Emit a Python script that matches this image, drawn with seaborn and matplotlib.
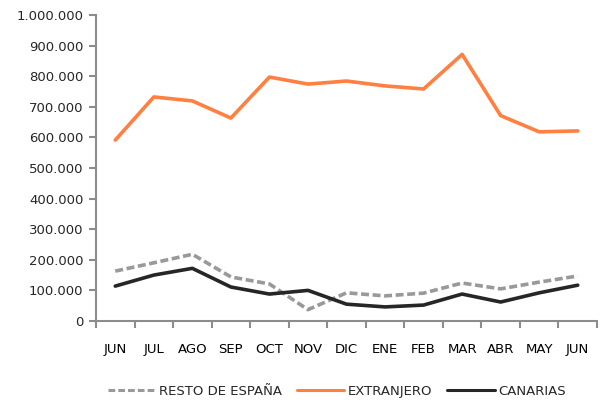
import pandas as pd
import seaborn as sns
import matplotlib.pyplot as plt
from matplotlib.ticker import FuncFormatter, FixedLocator

# Datos
meses = ['JUN', 'JUL', 'AGO', 'SEP', 'OCT', 'NOV', 'DIC', 'ENE', 'FEB', 'MAR', 'ABR', 'MAY', 'JUN ']
resto_espana = [163000, 190000, 218000, 144000, 121000, 37000, 92000, 82000, 91000, 124000, 105000, 127000, 147000]
extranjero = [591000, 732000, 719000, 663000, 797000, 774000, 784000, 768000, 758000, 871000, 671000, 618000, 621000]
canarias = [114000, 150000, 172000, 111000, 88000, 100000, 55000, 46000, 52000, 88000, 62000, 92000, 117000]

series = ['RESTO DE ESPAÑA', 'EXTRANJERO', 'CANARIAS']
df = pd.DataFrame({'Mes': meses * 3,
                   'Valor': resto_espana + extranjero + canarias,
                   'Serie': [s for s in series for _ in meses]})

colores = {'RESTO DE ESPAÑA': '#999999', 'EXTRANJERO': '#FF8040', 'CANARIAS': '#262626'}
estilos = {'RESTO DE ESPAÑA': (2.2, 1.0), 'EXTRANJERO': '', 'CANARIAS': ''}

sns.set_style('white')
plt.rcParams['font.family'] = ['DejaVu Sans']

fig = plt.figure(figsize=(6, 4.03), dpi=100)
ax = fig.add_axes([0.16, 0.2035, 0.835, 0.7595])

sns.lineplot(data=df, x='Mes', y='Valor', hue='Serie', style='Serie',
             palette=colores, dashes=estilos, linewidth=2.6, sort=False, ax=ax)

ax.set_xlim(-0.5, len(meses) - 0.5)
ax.set_ylim(0, 1000000)
ax.set_yticks(range(0, 1000001, 100000))
ax.yaxis.set_major_formatter(FuncFormatter(lambda v, p: f'{int(v):,}'.replace(',', '.')))
ax.set_xticks(range(len(meses)))
ax.set_xticklabels([m.strip() for m in meses])
ax.xaxis.set_minor_locator(FixedLocator([i - 0.5 for i in range(len(meses) + 1)]))
ax.tick_params(axis='x', which='major', length=0, pad=16, labelsize=9.5, colors='#000000')
ax.tick_params(axis='x', which='minor', length=5, width=1.5, color='#8c8c8c', direction='out', bottom=True)
ax.tick_params(axis='y', length=5, width=1.5, color='#8c8c8c', direction='out', left=True, labelsize=9.5, pad=4)
for lado in ['top', 'right']:
    ax.spines[lado].set_visible(False)
for lado in ['left', 'bottom']:
    ax.spines[lado].set_color('#8c8c8c')
    ax.spines[lado].set_linewidth(1.5)
ax.set_xlabel('')
ax.set_ylabel('')

leg = ax.legend(loc='upper center', bbox_to_anchor=(0.481, -0.17), ncol=3, frameon=False,
                fontsize=9.5, handlelength=3.6, columnspacing=1.1, handletextpad=0.3)
for h in leg.get_lines():
    h.set_linewidth(2.2)

fig.savefig('out.png', dpi=100)
